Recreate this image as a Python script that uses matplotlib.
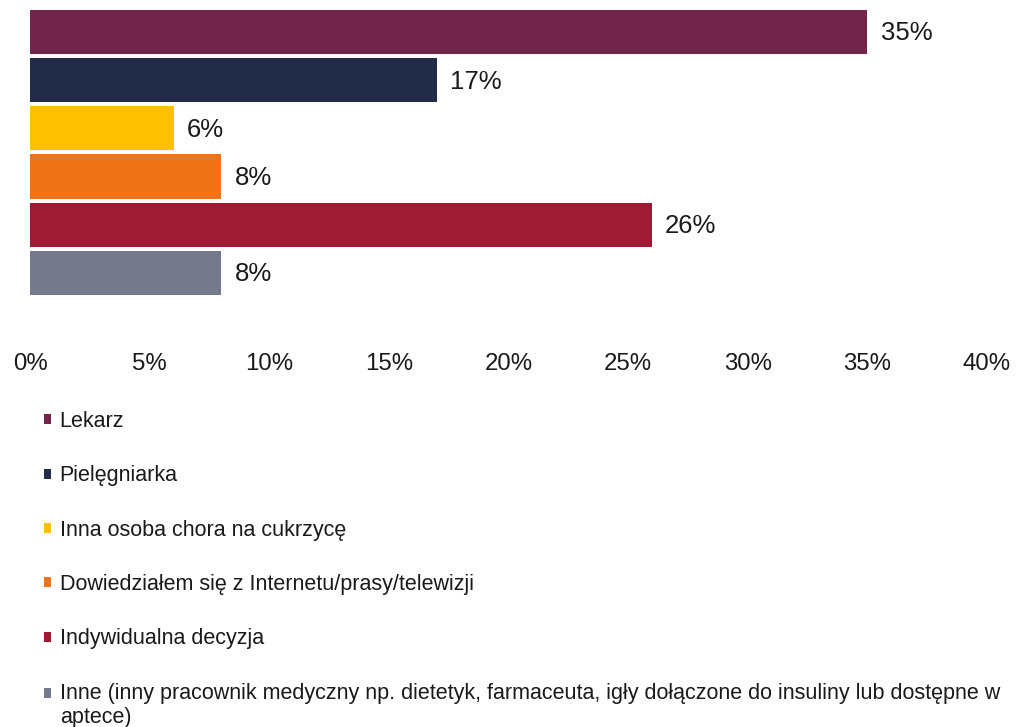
import matplotlib.pyplot as plt
from matplotlib.patches import Patch

plt.rcParams["font.family"] = ["Liberation Sans", "DejaVu Sans"]

# data
categories = [
    "Lekarz",
    "Pielęgniarka",
    "Inna osoba chora na cukrzycę",
    "Dowiedziałem się z Internetu/prasy/telewizji",
    "Indywidualna decyzja",
    "Inne (inny pracownik medyczny np. dietetyk, farmaceuta, igły dołączone do insuliny lub dostępne w\naptece)",
]
values = [35, 17, 6, 8, 26, 8]
colors = ["#722548", "#222B47", "#FFC000", "#F07318", "#9E1A35", "#75798C"]
ticks = [0, 5, 10, 15, 20, 25, 30, 35, 40]
text_color = "#1a1a1a"

fig = plt.figure(figsize=(10.16, 7.27), dpi=100)
ax = fig.add_axes([30 / 1016, 1 - 345 / 727, 957 / 1016, (345 - 8) / 727])

pos = list(range(len(values)))
ax.barh(pos, values, height=0.915, color=colors, edgecolor="none")

for p, v in zip(pos, values):
    ax.annotate(f"{v}%", xy=(v, p), xytext=(9.5, -1), textcoords="offset points",
                ha="left", va="center", fontsize=18.5, color=text_color)

ax.set_xlim(0, 40)
ax.set_ylim(6.5, -0.5)
ax.set_xticks(ticks)
ax.set_xticklabels([f"{t}%" for t in ticks], fontsize=17.3, color=text_color)
ax.tick_params(axis="x", length=0, pad=6)
ax.set_yticks([])
for s in ax.spines.values():
    s.set_visible(False)

handles = [Patch(facecolor=c, edgecolor="none") for c in colors]
leg = fig.legend(handles, categories, loc="upper left",
                 bbox_to_anchor=(44 / 1016, 1 - 411 / 727), frameon=False,
                 fontsize=15.5, handlelength=0.33, handleheight=0.33,
                 handletextpad=0.4, labelspacing=1.55, borderaxespad=0, borderpad=0,
                 labelcolor=text_color)
# keep the marker of the two-line entry next to its first line
last = leg.legend_handles[-1]
last.set_y(last.get_y() + 9)

fig.savefig("out.png", dpi=100)
